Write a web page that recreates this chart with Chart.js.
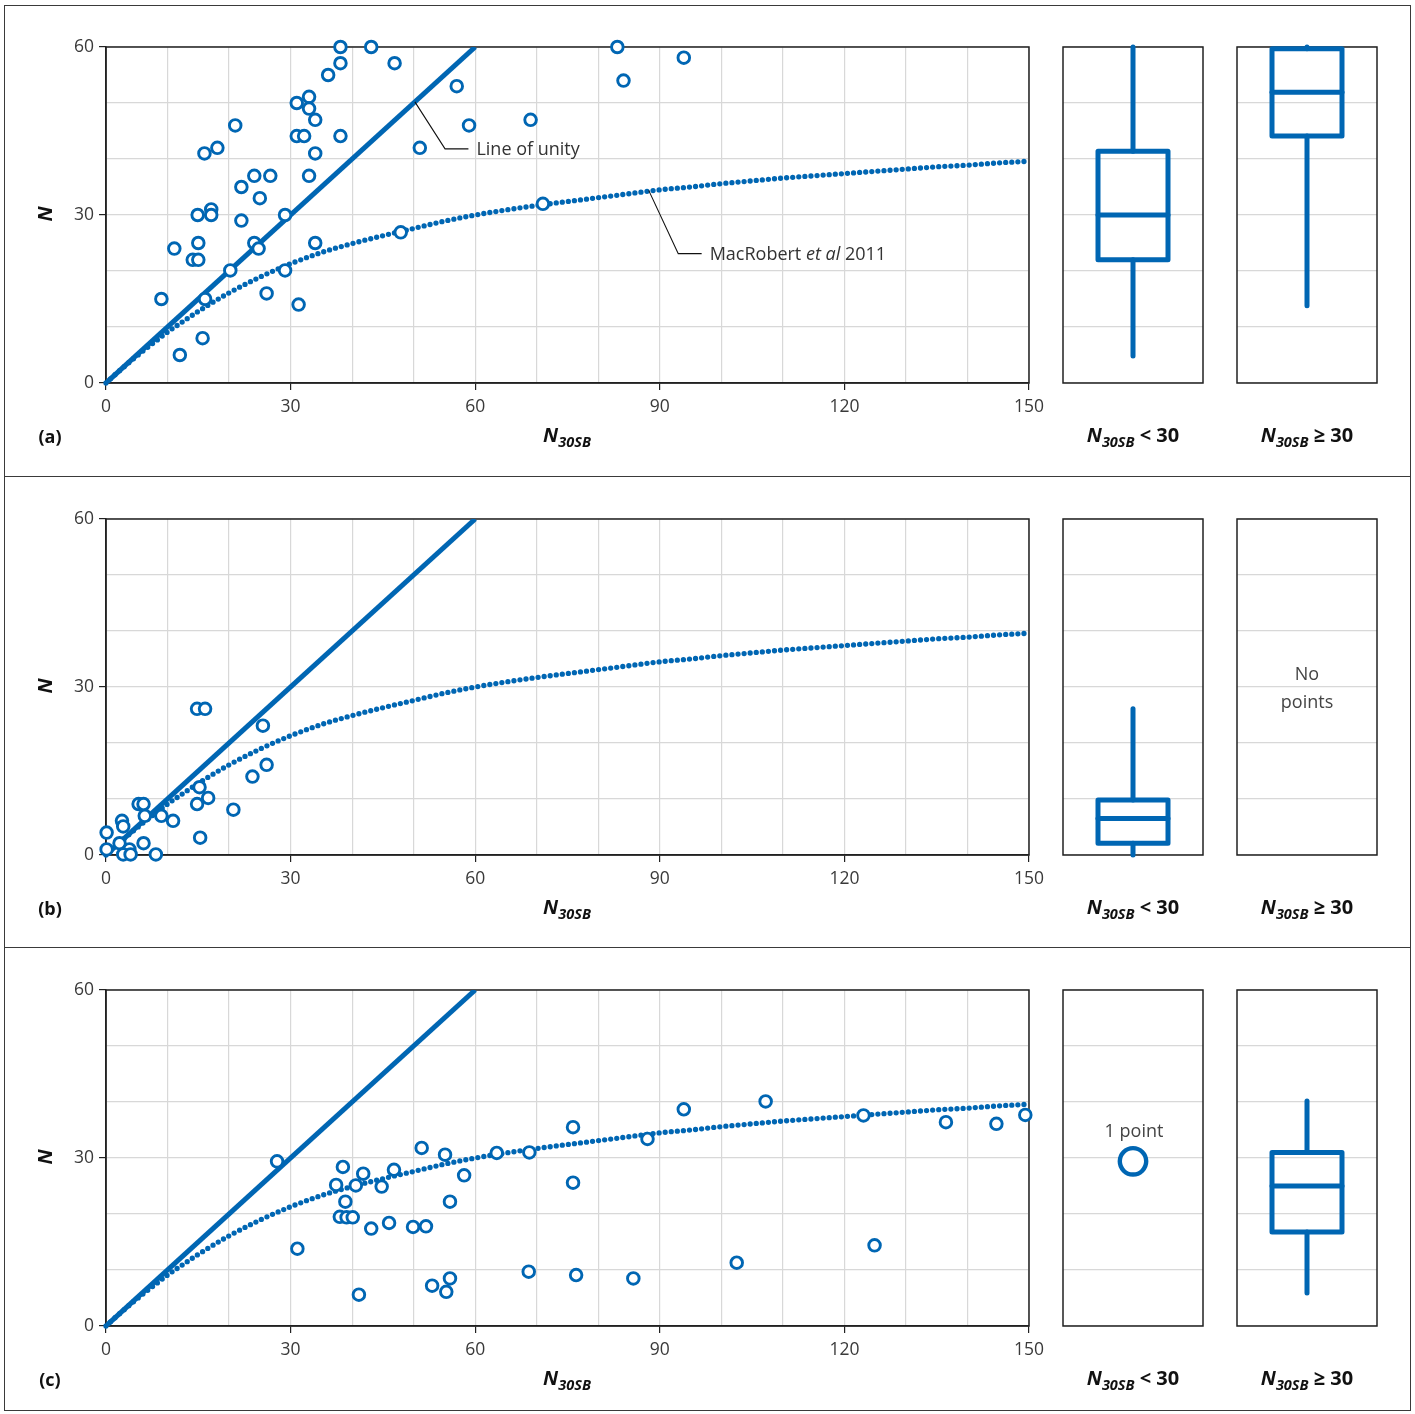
<!DOCTYPE html>
<html>
<head>
<meta charset="utf-8">
<title>N versus N30SB</title>
<script src="https://cdn.jsdelivr.net/npm/chart.js@4.4.1/dist/chart.umd.min.js"></script>
<style>
  html, body { margin: 0; padding: 0; background: #fff; }
  body { width: 1415px; height: 1414px; position: relative; overflow: hidden;
         font-family: 'Open Sans', 'Noto Sans', sans-serif; color: #333; }
  canvas { position: absolute; }
  .frame { position: absolute; left: 4px; top: 5px; width: 1407px; height: 1406px;
           border: 1.5px solid #3a3a3a; box-sizing: border-box; }
  .rule { position: absolute; left: 4px; width: 1407px; height: 0; border-top: 1.5px solid #3a3a3a; }
  .lbl { position: absolute; transform: translate(-50%, -50%); white-space: nowrap; line-height: 1; }
  .panel { font-weight: 700; font-size: 18px; color: #111; }
  .axis { font-weight: 700; font-style: italic; font-size: 20px; color: #111; }
  .axis sub { font-size: 14.5px; vertical-align: -5px; }
  .axis .op { font-style: normal; }
  .ytitle { transform: translate(-50%, -50%) rotate(-90deg); }
  .note { font-size: 18px; color: #444; text-align: center; line-height: 28px; }
</style>
</head>
<body>
<div class="frame"></div>
<div class="rule" style="top:476px"></div>
<div class="rule" style="top:947px"></div>

<script>
// ---- axis ticks ----
const xTicks = [0, 30, 60, 90, 120, 150];
const yTicks = [0, 30, 60];

// ---- reference lines ----
const unityX = [0, 60];
const unityY = [0, 60];

// MacRobert et al (2011) correlation, tabulated
const curveX = [0, 2, 4, 6, 8, 10, 12, 15, 20, 25, 30, 35, 40, 45, 50, 55, 60, 65, 70, 75, 80,
                85, 90, 95, 100, 105, 110, 115, 120, 125, 130, 135, 140, 145, 150];
const curveY = [0, 2.0, 3.9, 5.7, 7.4, 9.1, 10.6, 12.8, 16.1, 18.9, 21.3, 23.3, 24.9, 26.3, 27.6, 28.9, 30.0, 30.9, 31.7, 32.4, 33.1,
                33.8, 34.5, 35.0, 35.6, 36.1, 36.6, 37.0, 37.4, 37.8, 38.2, 38.6, 38.9, 39.3, 39.6];

// ---- (a) ----
const aX = [38.1, 43.1, 38.1, 46.9, 36.1, 57.0, 33.0, 31.0, 33.0, 34.0, 69.0, 59.0, 21.0, 31.0, 32.2, 38.1, 18.1,
            51.0, 16.0, 34.0, 24.1, 26.7, 33.0, 22.0, 25.0, 17.1, 14.9, 17.1, 29.1, 22.0, 11.1, 15.0, 24.1, 24.8,
            34.0, 14.1, 15.0, 47.9, 20.2, 29.1, 9.0, 16.1, 26.1, 31.3, 15.7, 12.0, 71.0, 83.1, 93.9, 84.1];
const aY = [60.0, 60.0, 57.1, 57.1, 55.0, 53.0, 51.1, 50.0, 49.0, 47.0, 47.0, 46.0, 46.0, 44.1, 44.1, 44.1, 42.0,
            42.0, 41.0, 41.0, 37.0, 37.0, 37.0, 35.0, 33.0, 31.0, 30.0, 30.0, 30.0, 29.0, 24.0, 25.0, 25.0, 24.0,
            25.0, 22.0, 22.0, 26.9, 20.1, 20.1, 15.0, 15.0, 16.0, 14.0, 8.0, 5.0, 32.0, 60.0, 58.1, 54.0];

// ---- (b) ----
const bX = [14.8, 16.1, 25.5, 26.1, 23.8, 15.2, 16.6, 14.8, 20.7, 5.3, 6.1, 6.3, 9.0, 10.9, 2.6, 2.8, 0.1,
            15.3, 2.2, 6.1, 0.1, 3.8, 2.8, 4.0, 8.1];
const bY = [26.1, 26.1, 23.1, 16.1, 14.0, 12.1, 10.2, 9.1, 8.1, 9.1, 9.1, 7.0, 7.0, 6.1, 6.1, 5.1, 4.0,
            3.1, 2.1, 2.1, 1.0, 1.0, 0.1, 0.1, 0.1];

// ---- (c) ----
const cX = [27.8, 38.5, 37.4, 41.8, 40.6, 44.8, 46.8, 51.3, 55.1, 58.2, 55.9, 38.9, 38.0, 39.1, 40.1, 43.1, 46.0,
            49.9, 52.0, 31.1, 41.1, 53.0, 55.9, 55.3, 63.5, 68.8, 75.9, 75.9, 88.0, 93.9, 107.2, 123.1, 136.5,
            144.7, 149.4, 68.7, 76.4, 85.7, 102.5, 124.9];
const cY = [29.4, 28.4, 25.2, 27.2, 25.1, 24.9, 27.9, 31.8, 30.6, 26.9, 22.2, 22.2, 19.5, 19.4, 19.4, 17.4, 18.4,
            17.7, 17.8, 13.8, 5.6, 7.2, 8.5, 6.1, 30.9, 31.0, 35.5, 25.6, 33.4, 38.7, 40.1, 37.6, 36.4,
            36.1, 37.7, 9.7, 9.1, 8.5, 11.3, 14.4];

// ---- box summaries: [min, lower quartile, median, upper quartile, max] ----
const boxALow  = [4.8, 22.0, 30.0, 41.4, 60.0];
const boxAHigh = [13.8, 44.1, 51.9, 59.7, 60.0];
const boxBLow  = [0.0, 2.1, 6.5, 9.8, 26.1];
const boxBHigh = null;
const boxCLow  = null;   // a single point, shown on its own
const boxCHigh = [5.9, 16.8, 25.0, 31.0, 40.2];

// ---------------------------------------------------------------
const BLUE = '#0066b3';
const FONT = "'Open Sans', 'Noto Sans', sans-serif";
const GRID = '#d8d8d8';
const INK = '#222';

const framePlugin = {
  id: 'frame',
  beforeDatasetsDraw(chart) {
    const { ctx, chartArea: a } = chart;
    ctx.save();
    ctx.strokeStyle = INK;
    ctx.lineWidth = 1.5;
    ctx.strokeRect(a.left, a.top, a.right - a.left, a.bottom - a.top);
    ctx.restore();
  }
};

// leader-line callouts, placed in data units
const notesPlugin = {
  id: 'notes',
  afterDatasetsDraw(chart, args, opts) {
    if (!opts || !opts.items) return;
    const { ctx, scales: { x, y } } = chart;
    ctx.save();
    for (const it of opts.items) {
      const p = (v) => [x.getPixelForValue(v[0]), y.getPixelForValue(v[1])];
      const a = p(it.anchor), b = p(it.elbow), e = p(it.end);
      ctx.strokeStyle = '#111';
      ctx.lineWidth = 1.1;
      ctx.beginPath();
      ctx.moveTo(a[0], a[1]); ctx.lineTo(b[0], b[1]); ctx.lineTo(e[0], e[1]);
      ctx.stroke();
      let tx = e[0] + 8;
      ctx.fillStyle = '#333';
      ctx.textBaseline = 'middle';
      for (const part of it.parts) {
        ctx.font = (part.italic ? 'italic ' : '') + '18px ' + FONT;
        ctx.fillText(part.text, tx, e[1] + 1);
        tx += ctx.measureText(part.text).width;
      }
    }
    ctx.restore();
  }
};

const notesA = [
  { anchor: [50.2, 50.2], elbow: [55.1, 41.8], end: [58.9, 41.8],
    parts: [{ text: 'Line of unity' }] },
  { anchor: [88.2, 34.4], elbow: [93.0, 23.1], end: [96.8, 23.1],
    parts: [{ text: 'MacRobert ' }, { text: 'et al', italic: true }, { text: ' 2011' }] }
];

function makeCanvas(left, top, w, h) {
  const c = document.createElement('canvas');
  c.width = w; c.height = h;
  c.style.left = left + 'px'; c.style.top = top + 'px';
  c.style.width = w + 'px'; c.style.height = h + 'px';
  document.body.appendChild(c);
  return c;
}

function label(html, cls, cx, cy) {
  const d = document.createElement('div');
  d.className = 'lbl ' + cls;
  d.innerHTML = html;
  d.style.left = cx + 'px'; d.style.top = cy + 'px';
  document.body.appendChild(d);
}

const pairs = (xs, ys) => xs.map((v, i) => ({ x: v, y: ys[i] }));

const tickMark = (ctx) => (ctx.tick && ctx.tick.value % 30 === 0) ? INK : 'rgba(0,0,0,0)';
const tickText = (v) => (v % 30 === 0 ? String(v) : '');

function scatterPanel(dy, xs, ys, notes) {
  const cv = makeCanvas(0, dy + 18, 1060, 420);
  new Chart(cv, {
    type: 'scatter',
    data: {
      datasets: [
        { data: pairs(xs, ys), pointRadius: 5.8, pointHoverRadius: 5.8, pointBorderWidth: 2.9,
          pointBackgroundColor: '#fff', pointBorderColor: BLUE, clip: false },
        { data: pairs(unityX, unityY), showLine: true, borderColor: BLUE, borderWidth: 5,
          pointRadius: 0, borderCapStyle: 'butt' },
        { data: pairs(curveX, curveY), showLine: true, borderColor: BLUE, borderWidth: 5.3,
          borderDash: [0, 6.1], borderCapStyle: 'round', pointRadius: 0,
          cubicInterpolationMode: 'monotone', clip: false }
      ]
    },
    options: {
      responsive: false, animation: false, devicePixelRatio: 1,
      layout: { autoPadding: false, padding: { left: 0, top: 29, right: 31, bottom: 15 } },
      plugins: { legend: { display: false }, tooltip: { enabled: false }, notes: { items: notes } },
      scales: {
        x: {
          type: 'linear', min: xTicks[0], max: xTicks[xTicks.length - 1],
          afterFit: (s) => { s.height = 40; },
          ticks: { stepSize: 10, autoSkip: false, maxRotation: 0, padding: 7, color: '#3a3a3a',
                   font: { family: FONT, size: 17.5 }, callback: tickText },
          grid: { color: GRID, lineWidth: 1.2, tickLength: 7, tickColor: tickMark },
          border: { color: INK, width: 1.5 }
        },
        y: {
          type: 'linear', min: yTicks[0], max: yTicks[yTicks.length - 1],
          afterFit: (s) => { s.width = 106; },
          ticks: { stepSize: 10, autoSkip: false, padding: 5, color: '#3a3a3a',
                   font: { family: FONT, size: 17.5 }, callback: tickText },
          grid: { color: GRID, lineWidth: 1.2, tickLength: 7, tickColor: tickMark },
          border: { color: INK, width: 1.5 }
        }
      }
    },
    plugins: [framePlugin, notesPlugin]
  });
}

// box geometry across the category width (0..1)
const BOX_L = 0.25, BOX_R = 0.75, MID = 0.5;

function boxPanel(left, dy, stats, singles) {
  const cv = makeCanvas(left - 10, dy + 18, 160, 420);
  const line = (pts) => ({ data: pts, showLine: true, borderColor: BLUE, borderWidth: 5,
                           borderCapStyle: 'round', borderJoinStyle: 'round', pointRadius: 0, clip: false });
  const ds = [];
  if (singles && singles.length) {
    ds.push({ data: singles.map(v => ({ x: MID, y: v })), pointRadius: 13.2, pointBorderWidth: 4.4,
              pointBackgroundColor: '#fff', pointBorderColor: BLUE, clip: false });
  }
  if (stats) {
    const [mn, q1, md, q3, mx] = stats;
    ds.push(line([{ x: MID, y: q1 }, { x: BOX_R, y: q1 }, { x: BOX_R, y: q3 }, { x: BOX_L, y: q3 },
                  { x: BOX_L, y: q1 }, { x: MID, y: q1 }]));
    ds.push(line([{ x: BOX_L, y: md }, { x: BOX_R, y: md }]));
    ds.push(line([{ x: MID, y: mn }, { x: MID, y: q1 }]));
    ds.push(line([{ x: MID, y: q3 }, { x: MID, y: mx }]));
  }
  new Chart(cv, {
    type: 'scatter',
    data: { datasets: ds },
    options: {
      responsive: false, animation: false, devicePixelRatio: 1,
      layout: { autoPadding: false, padding: { left: 10, top: 29, right: 10, bottom: 55 } },
      plugins: { legend: { display: false }, tooltip: { enabled: false } },
      scales: {
        x: { type: 'linear', min: 0, max: 1, display: false },
        y: {
          type: 'linear', min: yTicks[0], max: yTicks[yTicks.length - 1],
          afterFit: (s) => { s.width = 0; },
          ticks: { display: false, stepSize: 10 },
          grid: { color: GRID, lineWidth: 1.2, drawTicks: false },
          border: { display: false }
        }
      }
    },
    plugins: [framePlugin]
  });
}

const SUBSCRIPT_TITLE = '<i>N</i><sub>30SB</sub>';

function panel(dy, letter, xs, ys, low, high, lowSingles, notes) {
  scatterPanel(dy, xs, ys, notes);
  boxPanel(1063, dy, low, lowSingles);
  boxPanel(1237, dy, high, null);
  label('(' + letter + ')', 'panel', 50, 436 + dy);
  label('N', 'axis ytitle', 45, 214 + dy);
  label(SUBSCRIPT_TITLE, 'axis', 567, 437 + dy);
  label(SUBSCRIPT_TITLE + '<span class="op"> &lt; 30</span>', 'axis', 1133, 437 + dy);
  label(SUBSCRIPT_TITLE + '<span class="op"> ≥ 30</span>', 'axis', 1307, 437 + dy);
}

panel(0, 'a', aX, aY, boxALow, boxAHigh, null, notesA);
panel(472, 'b', bX, bY, boxBLow, boxBHigh, null, null);
label('No<br>points', 'note', 1307, 687);

// the only (c) point below N30SB = 30
const cLowPoints = cY.filter((v, i) => cX[i] < 30);
panel(943, 'c', cX, cY, boxCLow, boxCHigh, cLowPoints, null);
label('1 point', 'note', 1134, 1130);
</script>
</body>
</html>
